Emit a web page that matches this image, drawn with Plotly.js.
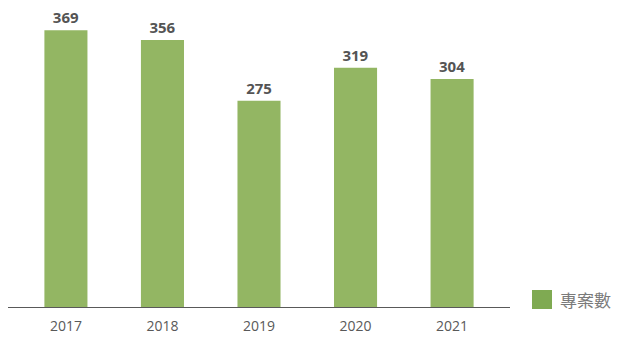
<!DOCTYPE html>
<html>
<head>
<meta charset="utf-8">
<script src="https://cdn.plot.ly/plotly-3.0.1.min.js"></script>
<style>html,body{margin:0;padding:0;background:#fff;}#chart{width:620px;height:346px;}</style>
</head>
<body>
<div id="chart"></div>
<script>
const years = ['2017', '2018', '2019', '2020', '2021'];
const projects = [369, 356, 275, 319, 304];
const seriesName = '專案數';

const barColor = '#93B663';
const legendColor = '#7FAA52';

const trace = {
  type: 'bar',
  x: years,
  y: projects,
  name: seriesName,
  marker: {color: barColor},
  text: projects.map(String),
  textposition: 'outside',
  cliponaxis: false,
  textfont: {family: 'Open Sans, sans-serif', size: 15, color: '#545454', weight: 'bold'},
  hoverinfo: 'x+y',
  showlegend: false
};

const layout = {
  width: 620,
  height: 346,
  margin: {l: 8, r: 110, t: 7, b: 39},
  paper_bgcolor: '#fff',
  plot_bgcolor: '#fff',
  bargap: 0.554,
  font: {family: 'Open Sans, sans-serif', color: '#595959'},
  xaxis: {
    type: 'category',
    range: [-0.6, 4.6],
    showline: true,
    linecolor: '#595959',
    linewidth: 1.3,
    ticks: 'outside',
    ticklen: 6,
    tickcolor: 'rgba(0,0,0,0)',
    tickfont: {size: 14, color: '#595959'},
    showgrid: false,
    zeroline: false
  },
  yaxis: {
    range: [0, 400],
    visible: false,
    showgrid: false,
    zeroline: false
  },
  shapes: [{
    type: 'rect', xref: 'paper', yref: 'paper',
    x0: 524 / 502, x1: 544 / 502,
    y0: -2 / 300, y1: 17 / 300,
    fillcolor: legendColor, line: {width: 0}
  }],
  annotations: [{
    xref: 'paper', yref: 'paper',
    x: 550 / 502, y: 8 / 300,
    xanchor: 'left', yanchor: 'middle',
    text: seriesName, showarrow: false,
    font: {family: 'Noto Sans CJK TC, sans-serif', size: 17, color: '#7a7a7a'}
  }]
};

Plotly.newPlot('chart', [trace], layout, {displayModeBar: false, staticPlot: true});
</script>
</body>
</html>
